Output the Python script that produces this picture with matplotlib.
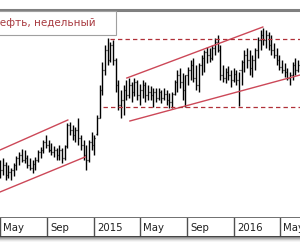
import numpy as np
import pandas as pd
import matplotlib
matplotlib.use("Agg")
from matplotlib import pyplot as plt
import matplotlib.dates as mdates
from matplotlib.patches import Rectangle

# weekly bars, oil, from early May 2014
highs = [70, 72, 68, 65, 62, 67, 74, 78, 81, 80, 75, 72, 70, 73, 80, 83, 90, 95, 90, 87,
         84, 82, 85, 82, 85, 107, 108, 105, 103, 112, 95, 90, 85, 90, 98, 95, 115, 145, 168, 185,
         192, 188, 190, 172, 150, 140, 145, 150, 152, 148, 152, 150, 146, 150, 148, 145, 144, 142, 142, 142,
         140, 142, 140, 137, 138, 150, 160, 162, 157, 155, 163, 170, 172, 165, 167, 175, 180, 183, 182, 185,
         192, 195, 185, 165, 162, 164, 160, 162, 160, 158, 170, 180, 182, 180, 175, 182, 193, 200, 202, 200,
         198, 195, 187, 182, 175, 170, 167, 162, 158, 168, 172, 170]
lows = [52, 55, 50, 52, 50, 54, 60, 65, 68, 67, 62, 60, 57, 60, 68, 72, 77, 82, 78, 75,
        73, 70, 70, 67, 70, 82, 95, 90, 88, 85, 80, 70, 60, 68, 80, 75, 95, 112, 135, 155,
        165, 168, 165, 138, 120, 112, 115, 130, 132, 128, 134, 130, 125, 132, 128, 130, 130, 123, 128, 130,
        127, 130, 125, 122, 122, 135, 138, 142, 130, 123, 145, 150, 148, 140, 138, 155, 158, 167, 168, 170,
        175, 178, 150, 148, 147, 150, 143, 148, 145, 124, 145, 158, 162, 155, 153, 160, 172, 180, 185, 182,
        180, 175, 172, 165, 160, 157, 153, 150, 145, 150, 155, 158]
opens = [55, 60, 65, 55, 58, 60, 65, 72, 75, 70, 72, 65, 62, 66, 70, 78, 80, 88, 85, 80,
         78, 80, 75, 80, 72, 84, 105, 100, 95, 100, 92, 85, 75, 70, 88, 85, 96, 112, 140, 160,
         180, 170, 185, 170, 145, 125, 130, 140, 135, 145, 138, 148, 135, 140, 145, 135, 138, 135, 138, 132,
         138, 132, 136, 130, 128, 136, 148, 155, 148, 140, 155, 160, 165, 152, 145, 165, 172, 178, 175, 172,
         182, 188, 180, 155, 152, 158, 155, 150, 156, 150, 160, 168, 175, 170, 162, 170, 180, 190, 195, 190,
         195, 185, 180, 175, 170, 163, 160, 158, 152, 155, 165, 160]
closes = [60, 65, 55, 58, 60, 65, 72, 75, 70, 72, 65, 62, 66, 70, 78, 80, 88, 85, 80, 78,
          80, 75, 80, 72, 84, 105, 100, 95, 100, 92, 85, 75, 70, 88, 85, 92, 112, 140, 160, 180,
          170, 185, 170, 145, 125, 130, 140, 135, 145, 138, 148, 135, 140, 145, 135, 138, 135, 138, 132, 138,
          132, 136, 130, 128, 136, 148, 155, 148, 140, 155, 160, 165, 152, 145, 165, 172, 178, 175, 172, 182,
          188, 180, 155, 152, 158, 155, 150, 156, 150, 160, 168, 175, 170, 162, 170, 180, 190, 195, 190, 195,
          185, 180, 175, 170, 163, 160, 158, 152, 155, 165, 160, 165]

# trend lines: (start date, start price, end date, end price)
channel_lines = [
    ("2014-05-01", 80, "2014-10-25", 110),
    ("2014-05-01", 38, "2014-12-09", 73),
    ("2015-03-28", 152, "2016-03-17", 203),
    ("2015-04-05", 109, "2016-06-22", 155),
]
level_lines = [("2015-02-12", 191), ("2015-01-25", 123)]

month_starts = ["2014-05-01", "2014-09-01", "2015-01-01", "2015-05-01",
                "2015-09-01", "2016-01-01", "2016-05-01"]
month_labels = ["May", "Sep", "2015", "May", "Sep", "2016", "May"]

dates = pd.date_range("2014-05-02", periods=len(highs), freq="7D")
d = mdates.date2num(dates.to_pydatetime())
x0 = mdates.date2num(pd.Timestamp("2014-05-01"))
x1 = mdates.date2num(pd.Timestamp("2016-06-22"))

fig = plt.figure(figsize=(3, 2.5), dpi=100)
fig.patch.set_facecolor("white")

# main chart: from y=10px to y=218px
ax = fig.add_axes([0, 32 / 250, 1, 208 / 250])
ax.vlines(d, lows, highs, color="black", lw=1.0)
ax.hlines(opens, d - 2.2, d, color="black", lw=0.9)
ax.hlines(closes, d, d + 2.2, color="black", lw=0.9)

for a, pa, b, pb in channel_lines:
    xa = mdates.date2num(pd.Timestamp(a))
    xb = mdates.date2num(pd.Timestamp(b))
    ax.plot([xa, xb], [pa, pb], color="#cc4858", lw=1.0)
for a, p in level_lines:
    xa = mdates.date2num(pd.Timestamp(a))
    ax.plot([xa, x1], [p, p], color="#b03038", lw=0.9, dashes=(3.5, 2.5))

ax.set_xlim(x0, x1)
ax.set_ylim(12, 220)
ax.set_xticks([])
ax.set_yticks([])
for s in ["left", "right"]:
    ax.spines[s].set_visible(False)
ax.spines["top"].set_color("#808080")
ax.spines["top"].set_linewidth(2.2)
ax.spines["bottom"].set_color("#707070")
ax.spines["bottom"].set_linewidth(1.4)

# time scale row: y=218px..237px
tx = fig.add_axes([0, 13 / 250, 1, 19 / 250])
tx.set_xlim(x0, x1)
tx.set_ylim(0, 1)
for m, lab in zip(month_starts, month_labels):
    xm = mdates.date2num(pd.Timestamp(m))
    tx.axvline(xm, color="#505050", lw=1.0)
    tx.text(xm + 8, 0.45, lab, fontsize=7.3, color="#202020", va="center", ha="left")
tx.set_xticks([])
tx.set_yticks([])
for s in ["left", "right"]:
    tx.spines[s].set_visible(False)
tx.spines["top"].set_visible(False)
tx.spines["bottom"].set_color("#404040")
tx.spines["bottom"].set_linewidth(1.4)

# shadow under the scale
for k, g in enumerate([0.55, 0.68, 0.8, 0.9, 0.96]):
    fig.patches.append(Rectangle((0, (12 - k) / 250), 1, 1 / 250, transform=fig.transFigure,
                                 facecolor=str(g), edgecolor="none"))

# title box, left edge cut off
fig.patches.append(Rectangle((-0.05, 215 / 250), 0.05 + 116 / 300, 24 / 250, transform=fig.transFigure,
                             facecolor="white", edgecolor="#a0a0a0", lw=0.8, zorder=5))
fig.text(-8 / 300, 227 / 250, "Нефть, недельный", fontsize=7.5, color="#a83a40",
         va="center", ha="left", zorder=6)

fig.savefig("out.png", dpi=100)
